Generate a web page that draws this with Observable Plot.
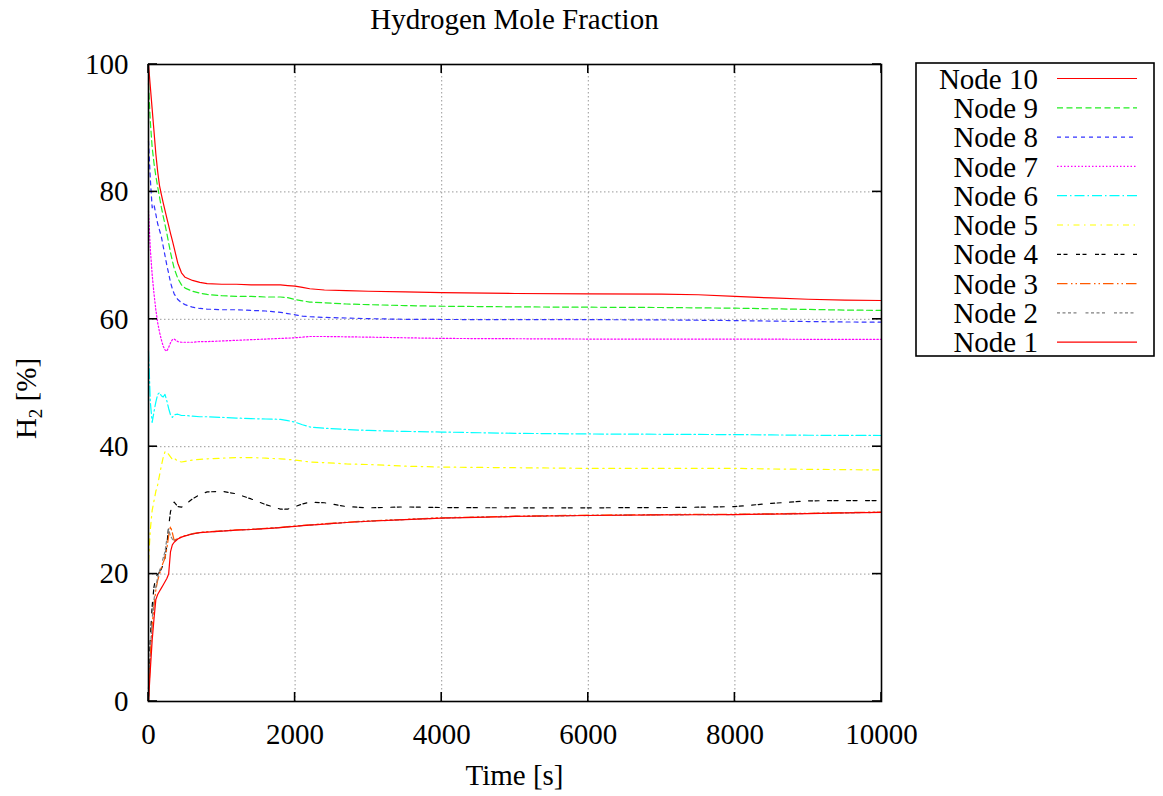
<!DOCTYPE html>
<html><head><meta charset="utf-8">
<script src="https://cdn.jsdelivr.net/npm/d3@7"></script>
<script src="https://cdn.jsdelivr.net/npm/@observablehq/plot@0.6"></script>
<style>body{margin:0;background:#fff}#chart{width:1163px;height:796px}</style>
</head><body><div id="chart"></div>
<script>
// ---- data ----
const time = [0,25,50,75,100,125,150,175,200,225,250,275,300,325,350,400,450,500,600,700,800,1000,1200,1400,1600,1800,1900,2000,2100,2200,2400,2700,3000,3500,4000,5000,6000,7000,7500,8000,8500,9000,9500,10000];
const node10 = [100,96.5,93,89.5,86,83.2,81,79.6,78.3,77.1,75.9,74.7,73.5,72.4,71.2,68.8,67.3,66.6,66.1,65.8,65.6,65.5,65.5,65.4,65.4,65.4,65.3,65.2,65.0,64.8,64.6,64.5,64.4,64.3,64.2,64.05,64.0,63.95,63.85,63.6,63.35,63.15,63.0,62.95];
const node9 = [97,91,87,84.5,82.5,80.8,79.2,77.6,76.2,74.9,73.5,72,70.5,69.2,68,66.4,65.4,64.9,64.4,64.1,63.9,63.7,63.6,63.6,63.5,63.5,63.4,63.1,62.9,62.7,62.6,62.4,62.3,62.15,62.05,61.95,61.9,61.85,61.8,61.75,61.65,61.55,61.45,61.4];
const node8 = [88,82,77.5,78,76.5,75,74,73,71.5,70,68.5,67.2,65.8,64.8,64,63.1,62.6,62.3,61.9,61.7,61.6,61.5,61.5,61.4,61.3,61.1,60.9,60.7,60.5,60.4,60.3,60.2,60.1,60.0,59.97,59.95,59.95,59.9,59.85,59.8,59.72,59.65,59.58,59.55];
const node7 = [77,71,67,64,61.5,59.5,58,56.8,55.8,55.2,55.0,55.6,56.3,56.8,56.9,56.5,56.4,56.4,56.4,56.5,56.5,56.6,56.7,56.8,56.9,57.0,57.05,57.1,57.2,57.3,57.3,57.25,57.2,57.1,57.0,56.95,56.9,56.9,56.9,56.9,56.88,56.86,56.85,56.85];
const node6 = [55,47,43.8,45.5,47,48.2,48.5,48,47.8,48.2,47.2,46,45,44.6,45,45.1,44.9,44.9,44.8,44.7,44.7,44.6,44.5,44.4,44.35,44.3,44.1,43.85,43.45,43.1,42.9,42.7,42.55,42.4,42.3,42.1,42.0,41.95,41.92,41.9,41.85,41.8,41.78,41.76];
const node5 = [22,27,30,31.5,33,34,35.5,37,38.3,39.2,39.2,38.8,38.4,38.0,38.2,37.7,37.6,37.7,37.9,38.0,38.1,38.2,38.3,38.3,38.2,38.1,38.0,37.9,37.75,37.6,37.5,37.3,37.2,36.95,36.8,36.7,36.6,36.6,36.6,36.6,36.5,36.45,36.4,36.35];
const node4 = [2,10,15,18,19.5,20,20.3,20.8,21.5,22.5,24.5,27.5,29.8,30.8,31.3,30.6,30.5,30.9,31.8,32.5,32.9,33.0,32.6,31.8,30.9,30.2,30.2,30.6,31.0,31.3,31.2,30.6,30.4,30.55,30.45,30.4,30.4,30.45,30.5,30.6,31.1,31.5,31.55,31.55];
const node3 = [0,7,12,15,17.5,19,20,21,21.8,22.5,24,26,27.5,26.5,25.3,25.6,25.85,26.05,26.35,26.55,26.65,26.8,26.95,27.05,27.2,27.35,27.45,27.55,27.65,27.75,27.9,28.15,28.35,28.6,28.85,29.1,29.25,29.35,29.37,29.4,29.47,29.55,29.65,29.75];
const node2 = [0,8,13,16,18,19.5,20.5,21.5,22.5,23.5,25.5,27,26,25.5,25.2,25.5,25.8,26.0,26.3,26.5,26.6,26.75,26.9,27.0,27.15,27.3,27.4,27.5,27.6,27.7,27.85,28.1,28.3,28.55,28.8,29.05,29.2,29.3,29.32,29.35,29.42,29.5,29.6,29.7];
const node1 = [0,5,9.6,13,16,16.8,17.3,17.8,18.3,18.8,19.3,20,23.5,24.6,25.0,25.5,25.8,26.0,26.3,26.5,26.6,26.75,26.9,27.0,27.15,27.3,27.4,27.5,27.6,27.7,27.85,28.1,28.3,28.55,28.8,29.05,29.2,29.3,29.32,29.35,29.42,29.5,29.6,29.7];
const nodeNames = ["Node 10","Node 9","Node 8","Node 7","Node 6","Node 5","Node 4","Node 3","Node 2","Node 1"];
const nodeValues = [node10,node9,node8,node7,node6,node5,node4,node3,node2,node1];
const xTicks = [0,2000,4000,6000,8000,10000];
const yTicks = [0,20,40,60,80,100];
const titleText = "Hydrogen Mole Fraction";
const xLabel = "Time [s]";

// ---- styles ----
const nodeColors = ["#ff0000","#22ee22","#3333ff","#ff00ff","#00ffff","#ffff00","#000000","#ff5a00","#808080","#ff0000"];
const nodeDashes = ["none","6,3.5","4,4","1.5,2","10,3,1.5,3","6,4.5,1.5,4.5","4,2.5,4,8.5","10.5,3.5,1.5,3,1.5,3","3,2.5,3,2.5,3,2.5,3,9","none"];
const FONT = "'Liberation Serif','Times New Roman',serif";
const FS = 29;

const marks = [
  Plot.gridX(xTicks.slice(1,-1), {stroke:"#999", strokeOpacity:1, strokeWidth:1, strokeDasharray:"1.5,2.5"}),
  Plot.gridY(yTicks.slice(1,-1), {stroke:"#999", strokeOpacity:1, strokeWidth:1, strokeDasharray:"1.5,2.5"})
];
nodeNames.forEach((name,i)=>{
  const rows = time.map((t,j)=>({t, v:nodeValues[i][j], name}));
  marks.push(Plot.line(rows,{x:"t", y:"v", stroke:nodeColors[i], strokeWidth:1.2, strokeDasharray:nodeDashes[i]}));
});
marks.push(Plot.frame({stroke:"#000", strokeWidth:1.6}));
marks.push(Plot.axisX(xTicks,{tickSize:0, tickPadding:22, fontSize:FS, tickFormat:d=>String(d), label:null}));
marks.push(Plot.axisY(yTicks,{tickSize:0, tickPadding:20, fontSize:FS, tickFormat:d=>String(d), label:null}));

const plot = Plot.plot({
  width:1163, height:796,
  marginLeft:148, marginRight:282, marginTop:64, marginBottom:95,
  x:{domain:[0,10000]}, y:{domain:[0,100]},
  style:{fontFamily:FONT, fontSize:FS+"px", color:"#000", background:"#fff", overflow:"visible"},
  marks
});
document.getElementById("chart").appendChild(plot);

// ---- decorations via Plot's scales ----
const svg = d3.select(plot);
const xs = plot.scale("x"), ys = plot.scale("y");
const x0 = xs.apply(0), x1 = xs.apply(10000), y0 = ys.apply(0), y1 = ys.apply(100);
const TL = 9;
const g = svg.append("g").attr("stroke","#000").attr("stroke-width",1.6);
xTicks.forEach(v=>{
  const x = xs.apply(v);
  g.append("line").attr("x1",x).attr("x2",x).attr("y1",y0).attr("y2",y0-TL);
  g.append("line").attr("x1",x).attr("x2",x).attr("y1",y1).attr("y2",y1+TL);
});
yTicks.forEach(v=>{
  const y = ys.apply(v);
  g.append("line").attr("x1",x0).attr("x2",x0+TL).attr("y1",y).attr("y2",y);
  g.append("line").attr("x1",x1).attr("x2",x1-TL).attr("y1",y).attr("y2",y);
});

const txt = svg.append("g").attr("font-family",FONT).attr("font-size",FS).attr("fill","#000");
txt.append("text").attr("x",(x0+x1)/2).attr("y",29).attr("text-anchor","middle").text(titleText);
txt.append("text").attr("x",(x0+x1)/2).attr("y",785).attr("text-anchor","middle").text(xLabel);
const yl = txt.append("text").attr("transform",`translate(36,${(y0+y1)/2+16}) rotate(-90)`).attr("text-anchor","middle");
yl.append("tspan").text("H");
yl.append("tspan").attr("font-size",19).attr("dy",6).text("2");
yl.append("tspan").attr("dy",-6).text(" [%]");

// legend
const LX = 916, LY = 63, LW = 238, LH = 293, ROW0 = 78.5, ROWH = 29.3;
const lg = svg.append("g");
lg.append("rect").attr("x",LX).attr("y",LY).attr("width",LW).attr("height",LH)
  .attr("fill","#fff").attr("stroke","#000").attr("stroke-width",1.6);
nodeNames.forEach((name,i)=>{
  const y = ROW0 + i*ROWH;
  lg.append("text").attr("x",1038).attr("y",y).attr("dy","0.35em").attr("text-anchor","end")
    .attr("font-family",FONT).attr("font-size",FS).attr("fill","#000").text(name);
  lg.append("line").attr("x1",1057).attr("x2",1137).attr("y1",y).attr("y2",y)
    .attr("stroke",nodeColors[i]).attr("stroke-width",1.2)
    .attr("stroke-dasharray",nodeDashes[i]);
});
</script>
</body></html>
